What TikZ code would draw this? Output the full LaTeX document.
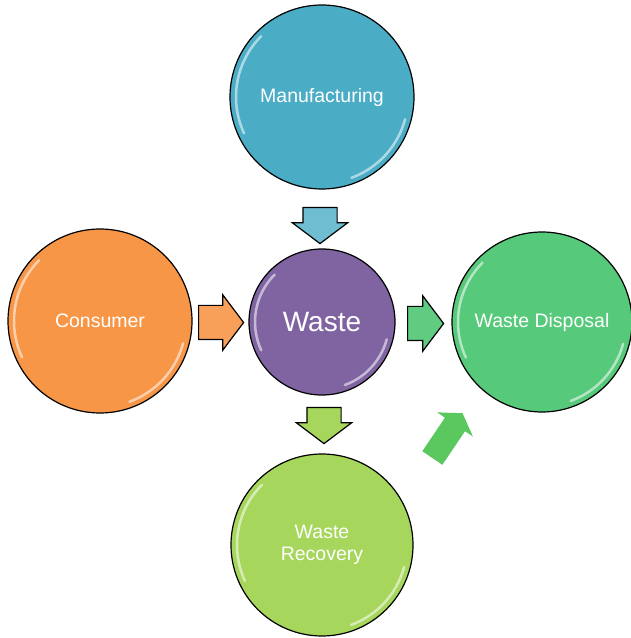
\documentclass[tikz,border=0pt]{standalone}
\usepackage{fontspec}
\setmainfont{Liberation Sans}
\usepackage{tikz}
\usetikzlibrary{shapes}
\usetikzlibrary{shapes.arrows}
\definecolor{manblue}{HTML}{4BACC6}
\definecolor{conorange}{HTML}{F79646}
\definecolor{wastepurple}{HTML}{8064A2}
\definecolor{dispgreen}{HTML}{57C97B}
\definecolor{recgreen}{HTML}{A6D65B}
\definecolor{biggreen}{HTML}{5AC85E}
\tikzstyle{stage}=[circle,draw=black,text=white,inner sep=0mm,align=center,font=\fontsize{19.5}{22}\selectfont]
\tikzstyle{flow}=[single arrow,draw=black,inner xsep=0pt,inner ysep=16.5pt,single arrow head extend=10.5pt,single arrow tip angle=106,anchor=tail,minimum height=36pt]
\tikzstyle{bigflow}=[single arrow,fill=biggreen,inner xsep=0pt,inner ysep=11.5pt,single arrow head extend=9.5pt,single arrow tip angle=116,anchor=tail,minimum height=54pt]
\tikzstyle{glint}=[white,opacity=.55,line width=2.5,line cap=round]
\newcommand \gloss [2] {
  \draw[glint] ([shift={(135:#2)}]#1.center) arc[start angle=135,end angle=205,radius=#2];
  \draw[glint] ([shift={(290:#2)}]#1.center) arc[start angle=290,end angle=345,radius=#2];
}
\tikzset{every picture/.style={
    line width=1.2
  }
}

\begin{document}
\begin{tikzpicture}[x=1pt,y=1pt]
        \useasboundingbox (0,0) rectangle (630,638);
        \node[stage,fill=manblue,minimum size=184pt] at (322,541) (man) {Manufacturing};
        \node[stage,fill=conorange,minimum size=184pt] at (100,317) (con) {Consumer};
        \node[stage,fill=wastepurple,minimum size=146pt,font=\fontsize{28}{30}\selectfont] at (322,316) (waste) {Waste};
        \node[stage,fill=dispgreen,minimum size=180pt] at (542,316) (disp) {Waste Disposal};
        \node[stage,fill=recgreen,minimum size=182pt] at (322,93) (rec) {Waste\\Recovery};
        \gloss{man}{86}
        \gloss{con}{86}
        \gloss{waste}{67}
        \gloss{disp}{84}
        \gloss{rec}{85}
        \node[flow,fill=conorange!90!white,minimum height=45pt] at (198,315.5) (f1) {};
        \node[flow,fill=manblue!80!white,rotate=-90] at (320,431) (f2) {};
        \node[flow,fill=dispgreen!95!white] at (407,314.5) (f3) {};
        \node[flow,fill=recgreen,rotate=-90] at (324,231) (f4) {};
        \node[bigflow,rotate=56] at (432,179.5) (f5) {};
      \end{tikzpicture}
\end{document}
